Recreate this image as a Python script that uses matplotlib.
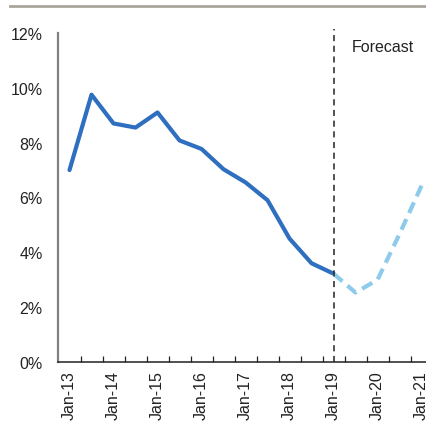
import matplotlib.pyplot as plt
from matplotlib.ticker import FuncFormatter, FixedLocator

plt.rcParams['font.family'] = ['Liberation Sans', 'DejaVu Sans']

# semi-annual points, Jan-13 .. Jan-21
periods = ['Jan-13', 'Jul-13', 'Jan-14', 'Jul-14', 'Jan-15', 'Jul-15', 'Jan-16', 'Jul-16',
           'Jan-17', 'Jul-17', 'Jan-18', 'Jul-18', 'Jan-19', 'Jul-19', 'Jan-20', 'Jul-20', 'Jan-21']
actual = [7.0, 9.75, 8.7, 8.55, 9.1, 8.08, 7.77, 7.03, 6.55, 5.9, 4.5, 3.6, 3.22]
forecast = [3.22, 2.53, 3.0, 4.67, 6.43]
yticks = [0, 2, 4, 6, 8, 10, 12]

x_act = list(range(len(actual)))
x_fc = list(range(len(actual) - 1, len(periods)))
split = len(actual) - 1

fig = plt.figure(figsize=(4.27, 4.27), dpi=100)
ax = fig.add_axes([0.137, 0.15, 0.876, 0.7704])

ax.plot(x_act, actual, color='#2f6fbf', lw=3.0, solid_capstyle='round', solid_joinstyle='round')
ax.plot(x_fc, forecast, color='#8ecbea', lw=3.0, linestyle=(0, (2.8, 1.6)))
ax.axvline(split, ymin=0, ymax=1.012, color='#222222', lw=1.1, linestyle=(0, (4, 3)), clip_on=False)
ax.text(split + 0.85, 11.5, 'Forecast', fontsize=11.5, color='#222222', va='center', ha='left')

ax.set_xlim(-0.5, 16.5)
ax.set_ylim(0, 12)
ax.set_yticks(yticks)
ax.yaxis.set_major_formatter(FuncFormatter(lambda v, p: f'{v:.0f}%'))
ax.tick_params(axis='y', length=0, pad=11.5, labelsize=11.5, labelcolor='#222222')

ax.xaxis.set_major_locator(FixedLocator(list(range(0, len(periods), 2))))
ax.set_xticklabels(periods[::2], rotation=90)
ax.xaxis.set_minor_locator(FixedLocator([k - 0.5 for k in range(1, len(periods) + 1)]))
ax.tick_params(axis='x', which='major', length=0, pad=6, labelsize=11.5, labelcolor='#222222')
ax.tick_params(axis='x', which='minor', direction='in', length=4, width=0.9, color='#222222')

for s in ['top', 'right']:
    ax.spines[s].set_visible(False)
ax.spines['left'].set_color('#808080')
ax.spines['left'].set_linewidth(1.6)
ax.spines['bottom'].set_color('#222222')
ax.spines['bottom'].set_linewidth(1.1)

# grey rule across the top
fig.add_artist(plt.Line2D([0.024, 1.0], [0.983, 0.983], color='#aaa69e', lw=2.0))

fig.savefig('out.png', dpi=100)
